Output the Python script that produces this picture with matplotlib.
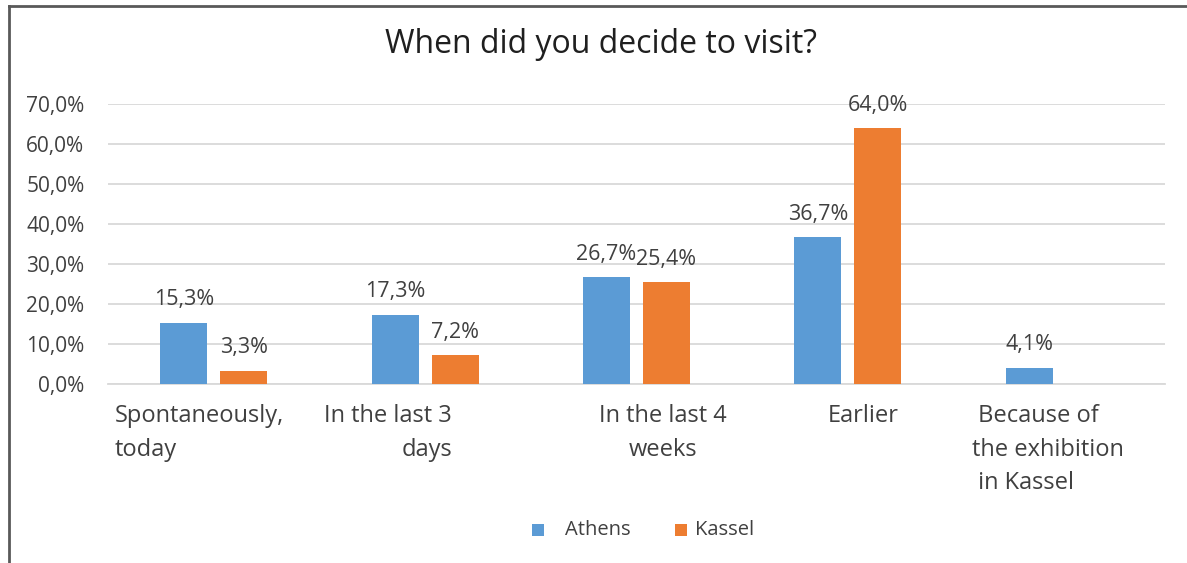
import matplotlib
matplotlib.use("Agg")
import matplotlib.pyplot as plt
from matplotlib.lines import Line2D
from matplotlib.patches import Rectangle
import numpy as np

categories = ["Spontaneously,\ntoday", "In the last 3\ndays", "In the last 4\nweeks",
              "Earlier", " Because of\nthe exhibition\n in Kassel"]
athens = [15.3, 17.3, 26.7, 36.7, 4.1]
kassel = [3.3, 7.2, 25.4, 64.0, np.nan]
series_names = ["Athens", "Kassel"]
yticks = [0, 10, 20, 30, 40, 50, 60, 70]

BLUE = "#5B9BD5"
ORANGE = "#ED7D31"
TXT = "#404040"

W, H = 1187, 563
plt.rcParams['font.family'] = ['Open Sans', 'DejaVu Sans']

fig = plt.figure(figsize=(W / 100, H / 100), dpi=100)
ax = fig.add_axes([108 / W, 1 - 384 / H, (1165 - 108) / W, (384 - 104) / H])

x = np.arange(len(categories))
w = 0.222
off = 0.142
ax.bar(x - off, athens, w, color=BLUE, zorder=3)
ax.bar(x + off, kassel, w, color=ORANGE, zorder=3)


def pct(v):
    return f"{v:.1f}".replace(".", ",") + "%"


for xs, vals in ((x - off, athens), (x + off, kassel)):
    for xi, v in zip(xs, vals):
        if not np.isnan(v):
            ax.annotate(pct(v), (xi, v), xytext=(0, 9), textcoords="offset points",
                        ha="center", va="bottom", fontsize=15.5, color=TXT)

ax.set_xlim(-0.5, len(categories) - 0.5)
ax.set_ylim(0, 70)
ax.set_yticks(yticks)
ax.set_yticklabels([pct(t) for t in yticks], fontsize=15, color=TXT)
ax.tick_params(axis="y", length=0, pad=17)
ax.set_xticks([])
ax.grid(axis="y", color="#D9D9D9", linewidth=1.3, zorder=0)
for s in ["top", "right", "left"]:
    ax.spines[s].set_visible(False)
ax.spines["bottom"].set_color("#D9D9D9")
ax.spines["bottom"].set_linewidth(1.3)

# category labels below the axis, placed in data x-coordinates
lab_y = -0.07
label_specs = [
    (-0.467, "left"),
    (1.127, "right"),
    (2.125, "center"),
    (3.071, "center"),
    (3.587, "left"),
]
trans = ax.get_xaxis_transform()
for (xp, ha), lab in zip(label_specs, categories):
    ax.text(xp, lab_y, lab, transform=trans, ha=ha, va="top", multialignment=ha,
            fontsize=17, color=TXT, linespacing=1.55)

fig.text(601 / W, 1 - 53 / H, "When did you decide to visit?", ha="center",
         va="baseline", fontsize=23, color="#1F1F1F")

# legend entries
legend_items = [(532, 565, BLUE), (675, 695, ORANGE)]
for (mx, tx, col), name in zip(legend_items, series_names):
    fig.add_artist(Rectangle((mx / W, 1 - 536 / H), 12 / W, 12 / H,
                             transform=fig.transFigure, facecolor=col, edgecolor="none"))
    fig.text(tx / W, 1 - 530 / H, name, ha="left", va="center", fontsize=14.5, color=TXT)

# frame lines along the left and top edges
fig.add_artist(Line2D([9 / W, 9 / W], [0, 1 - 6 / H], transform=fig.transFigure,
                      color="#595959", linewidth=2))
fig.add_artist(Line2D([9 / W, 1], [1 - 6 / H, 1 - 6 / H], transform=fig.transFigure,
                      color="#595959", linewidth=2))

fig.savefig("out.png", dpi=100, facecolor="white")
